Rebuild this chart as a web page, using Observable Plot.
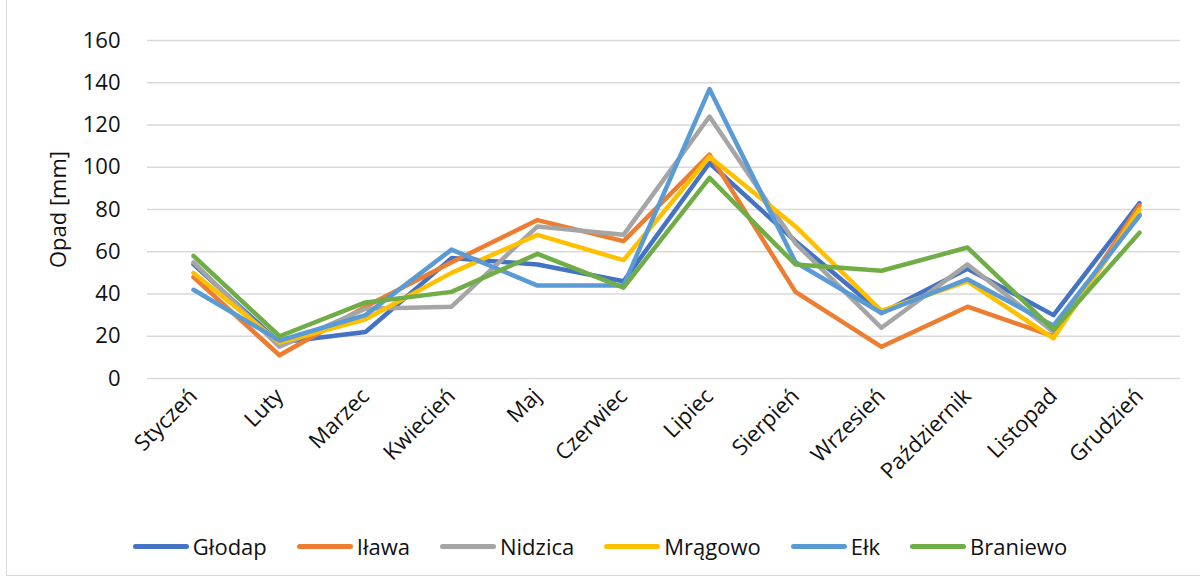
<!DOCTYPE html>
<html><head><meta charset="utf-8">
<script src="https://cdn.jsdelivr.net/npm/d3@7"></script>
<script src="https://cdn.jsdelivr.net/npm/@observablehq/plot@0.6"></script>
<style>
body{margin:0;background:#fff;font-family:"Open Sans",sans-serif;}
#wrap{position:relative;width:1200px;height:578px;overflow:hidden;background:#fff;}
#frame{position:absolute;left:6px;top:-2px;width:1200px;height:578px;border-left:1.5px solid #d9d9d9;border-bottom:1.5px solid #d9d9d9;box-sizing:border-box;pointer-events:none;}
#chart{position:absolute;left:0;top:0;}
#legend{position:absolute;left:0;top:530px;width:1200px;height:32px;display:flex;justify-content:center;align-items:center;gap:30px;font-size:22px;color:#111;}
.item{display:flex;align-items:center;gap:4px;}
.sw{width:56px;height:5px;border-radius:3px;}
</style></head>
<body>
<div id="wrap"><div id="chart"></div><div id="legend"></div><div id="frame"></div></div>
<script>
const months = ["Styczeń","Luty","Marzec","Kwiecień","Maj","Czerwiec","Lipiec","Sierpień","Wrzesień","Październik","Listopad","Grudzień"];
const stations = ["Głodap","Iława","Nidzica","Mrągowo","Ełk","Braniewo"];
const colors = ["#4472C4","#ED7D31","#A5A5A5","#FFC000","#5B9BD5","#70AD47"];
const yTicks = [0,20,40,60,80,100,120,140,160];

const glodap   = [54, 17, 22, 57, 54, 46, 102, 65, 31, 52, 30, 83];
const ilawa    = [48, 11, 34, 55, 75, 65, 106, 41, 15, 34, 20, 82];
const nidzica  = [55, 15, 33, 34, 72, 68, 124, 64, 24, 54, 22, 78];
const mragowo  = [50, 17, 28, 50, 68, 56, 105, 72, 32, 46, 19, 80];
const elk      = [42, 18, 30, 61, 44, 44, 137, 55, 31, 47, 25, 77];
const braniewo = [58, 20, 36, 41, 59, 43, 95, 54, 51, 62, 23, 69];

const series = [glodap, ilawa, nidzica, mragowo, elk, braniewo];
const data = [];
stations.forEach((s, i) => months.forEach((m, j) => data.push({station: s, month: m, value: series[i][j]})));

const chart = Plot.plot({
  width: 1200, height: 510,
  marginLeft: 145, marginRight: 13, marginTop: 40, marginBottom: 132,
  style: {fontFamily: "'Open Sans', sans-serif", fontSize: "22px", color: "#111", background: "transparent"},
  x: {type: "point", domain: months, padding: 0.5},
  y: {domain: [0, 160]},
  color: {domain: stations, range: colors},
  marks: [
    Plot.ruleY(yTicks, {stroke: "#d9d9d9", strokeWidth: 1.5, insetLeft: 2, insetRight: 7}),
    Plot.axisY({ticks: yTicks, tickSize: 0, tickPadding: 25, label: null, fontSize: 22}),
    Plot.axisX({tickRotate: -45, tickSize: 0, tickPadding: 14, label: null, fontSize: 22}),
    Plot.text(["Opad [mm]"], {frameAnchor: "left", textAnchor: "middle", dx: -87, rotate: -90, fontSize: 22, fill: "#111"}),
    Plot.line(data, {x: "month", y: "value", z: "station", stroke: "station", strokeWidth: 4.5, strokeLinejoin: "round", strokeLinecap: "round"})
  ]
});
document.getElementById("chart").appendChild(chart);

const legend = document.getElementById("legend");
stations.forEach((s, i) => {
  const it = document.createElement("div");
  it.className = "item";
  const sw = document.createElement("span");
  sw.className = "sw";
  sw.style.background = colors[i];
  const t = document.createElement("span");
  t.textContent = s;
  it.appendChild(sw); it.appendChild(t);
  legend.appendChild(it);
});
</script>
</body></html>
